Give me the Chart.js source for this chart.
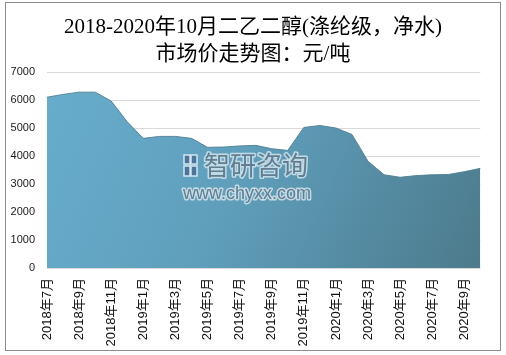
<!DOCTYPE html>
<html>
<head>
<meta charset="utf-8">
<script src="https://cdn.jsdelivr.net/npm/chart.js@4/dist/chart.umd.min.js"></script>
<style>
  html, body { margin: 0; padding: 0; background: #fff; }
  #wrap { width: 506px; height: 355px; position: relative; }
</style>
</head>
<body>
<div id="wrap"><canvas id="c" width="506" height="355"></canvas></div>
<script>
// ---- data ----
const titleLines = ['2018-2020年10月二乙二醇(涤纶级，净水)', '市场价走势图：元/吨'];
const months = [
  '2018年7月','2018年8月','2018年9月','2018年10月','2018年11月','2018年12月',
  '2019年1月','2019年2月','2019年3月','2019年4月','2019年5月','2019年6月',
  '2019年7月','2019年8月','2019年9月','2019年10月','2019年11月','2019年12月',
  '2020年1月','2020年2月','2020年3月','2020年4月','2020年5月','2020年6月',
  '2020年7月','2020年8月','2020年9月','2020年10月'
];
const prices = [
  6100, 6200, 6280, 6280, 5960, 5220,
  4630, 4700, 4700, 4630, 4310, 4320,
  4360, 4380, 4260, 4200, 5020, 5090,
  5000, 4770, 3810, 3330, 3240, 3300,
  3330, 3340, 3440, 3560
];
const yTicks = { min: 0, max: 7000, step: 1000 };
const watermark = { name: '智研咨询', url: 'www.chyxx.com' };

const frame = {
  id: 'frame',
  beforeDraw(chart) {
    const ctx = chart.ctx;
    ctx.save();
    ctx.fillStyle = '#ffffff';
    ctx.fillRect(0, 0, chart.width, chart.height);
    ctx.strokeStyle = '#8c8c8c';
    ctx.lineWidth = 1;
    ctx.strokeRect(5.5, 2.5, 495, 348);
    ctx.fillStyle = '#000';
    ctx.textAlign = 'center';
    ctx.textBaseline = 'middle';
    ctx.font = '21px "Liberation Serif", "Noto Sans CJK SC", serif';
    ctx.fillText(titleLines[0], 253, 27);
    ctx.fillText(titleLines[1], 253, 54);
    ctx.restore();
  },
  afterDatasetsDraw(chart) {
    const ctx = chart.ctx;
    ctx.save();
    // logo
    ctx.fillStyle = 'rgba(70,110,150,0.85)';
    ctx.strokeStyle = 'rgba(225,238,244,0.9)';
    ctx.lineWidth = 1.5;
    ctx.beginPath(); ctx.rect(184, 155, 6, 9); ctx.fill(); ctx.stroke();
    ctx.beginPath(); ctx.rect(191, 155, 6, 9); ctx.fill(); ctx.stroke();
    ctx.beginPath(); ctx.rect(184, 166, 6, 10); ctx.fill(); ctx.stroke();
    ctx.beginPath(); ctx.rect(191, 166, 6, 10); ctx.fill(); ctx.stroke();
    ctx.textBaseline = 'middle';
    ctx.textAlign = 'left';
    ctx.lineJoin = 'round';
    ctx.font = '26px "Noto Sans CJK SC", sans-serif';
    ctx.lineWidth = 3;
    ctx.strokeStyle = 'rgba(210,228,236,0.85)';
    ctx.strokeText(watermark.name, 204, 165);
    ctx.fillStyle = 'rgba(85,115,135,0.9)';
    ctx.fillText(watermark.name, 204, 165);
    ctx.font = '18px "Liberation Sans", Arial, sans-serif';
    ctx.strokeText(watermark.url, 183, 194);
    ctx.fillText(watermark.url, 183, 194);
    ctx.restore();
  }
};

function areaGradient(context) {
  const chart = context.chart;
  const a = chart.chartArea;
  if (!a) return '#5f9fbd';
  const g = chart.ctx.createLinearGradient(a.left, a.top, a.right, a.bottom);
  g.addColorStop(0, '#68adcd');
  g.addColorStop(0.45, '#5f9fbc');
  g.addColorStop(1, '#4c7a8b');
  return g;
}

new Chart(document.getElementById('c'), {
  type: 'line',
  data: {
    labels: months,
    datasets: [{
      data: prices,
      fill: 'origin',
      backgroundColor: areaGradient,
      borderColor: 'rgba(80,125,145,0.9)',
      borderWidth: 1,
      pointRadius: 0,
      tension: 0
    }]
  },
  plugins: [frame],
  options: {
    responsive: false,
    animation: false,
    events: [],
    layout: { padding: { top: 72, right: 14, bottom: 0, left: 0 } },
    plugins: {
      legend: { display: false },
      title: { display: false },
      tooltip: { enabled: false }
    },
    scales: {
      x: {
        offset: false,
        grid: { display: false, drawTicks: false },
        border: { display: false },
        afterFit(s) { s.height = 87; },
        ticks: {
          autoSkip: false,
          minRotation: 90,
          maxRotation: 90,
          padding: 10,
          color: '#111',
          font: { family: '"Liberation Sans", "Noto Sans CJK SC", sans-serif', size: 13 },
          callback(v, i) { return i % 2 === 0 ? months[i] : ''; }
        }
      },
      y: {
        min: yTicks.min,
        max: yTicks.max,
        grid: { color: '#d9d9d9', drawTicks: false },
        border: { display: false },
        afterFit(s) { s.width = 47; },
        ticks: {
          stepSize: yTicks.step,
          padding: 12,
          color: '#1a1a1a',
          font: { family: '"Liberation Sans", Arial, sans-serif', size: 11 },
          callback(v) { return String(v); }
        }
      }
    }
  }
});
</script>
</body>
</html>
